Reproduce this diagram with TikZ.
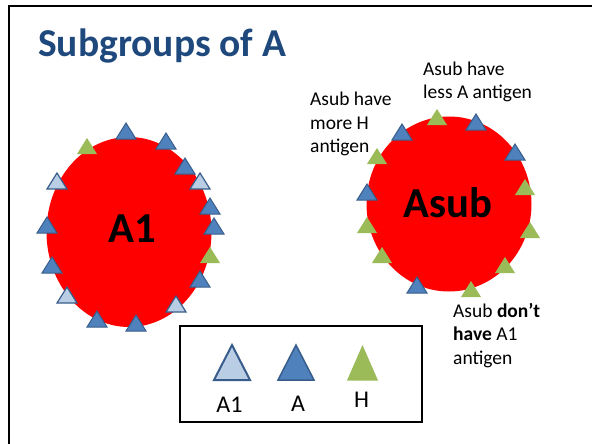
\documentclass[tikz,border=0pt]{standalone}
\usepackage{fontspec}
\setmainfont{Carlito}
\definecolor{titleblue}{RGB}{31,73,125}
\definecolor{agA}{RGB}{79,129,189}
\definecolor{agAline}{RGB}{56,93,138}
\definecolor{agAone}{RGB}{185,205,229}
\definecolor{agH}{RGB}{155,187,89}
\tikzset{
  frameline/.style={line width=2.5pt, black},
  cell/.style={fill=red, draw=none},
  antA/.style={fill=agA, draw=agAline, line width=1pt, line join=miter},
  antAone/.style={fill=agAone, draw=agAline, line width=1.2pt, line join=miter},
  antH/.style={fill=agH, draw=none},
  celllabel/.style={font=\fontsize{42.7}{46}\selectfont\bfseries, inner sep=0pt, anchor=base west},
  % multi-line notes are anchored at the baseline of their last line
  note/.style={font=\fontsize{19.5}{23.5}\selectfont, inner sep=0pt, anchor=base west, align=left},
  legendlabel/.style={font=\fontsize{24}{28}\selectfont, inner sep=0pt, anchor=base},
  legendbox/.style={draw=black, line width=1.8pt}
}
% small antigen triangle centred at (#2,#3)
\newcommand\antigen[3]{\path[#1] (#2-10,#3+8) -- (#2+10,#3+8) -- (#2,#3-8) -- cycle;}
\begin{document}
\begin{tikzpicture}[x=1pt,y=-1pt]
\useasboundingbox (0,0) rectangle (592,444);

% slide frame (left and top edges)
\draw[frameline] (9,444) -- (9,6) -- (592,6);

% title
\node[font=\fontsize{39.5}{43}\selectfont\bfseries, text=titleblue, inner sep=0pt, anchor=base west] (title) at (38,57) {Subgroups of A};

% the two red cells
\fill[cell] (129,232) ellipse [x radius=82.5, y radius=95];
\fill[cell] (449,204) ellipse [x radius=82.5, y radius=87.5];
\node[celllabel] (a1) at (108,242) {A1};
\node[celllabel] (asub) at (403,217) {Asub};

% antigens on the A1 cell
\foreach \x/\y in {126/131,166/141,185/166,210/206,47/225,214/226,52/265,200/279,97/319,136/323}
  {\antigen{antA}{\x}{\y}}
\foreach \x/\y in {57/181,200/181,67/295,176/304}
  {\antigen{antAone}{\x}{\y}}
\foreach \x/\y in {87/146,210/255}
  {\antigen{antH}{\x}{\y}}

% antigens on the Asub cell
\foreach \x/\y in {476/122,402/132,515/152,367/192,417/285}
  {\antigen{antA}{\x}{\y}}
\foreach \x/\y in {437/117,377/156,525/187,367/225,530/230,382/255,505/265,471/289}
  {\antigen{antH}{\x}{\y}}

% notes
\node[note] (lessA) at (423,99) {Asub have\\less A antigen};
\node[note] (moreH) at (310,152.5) {Asub have\\more H\\antigen};
\node[note] (noA1) at (453,364) {Asub \textbf{don’t}\\\textbf{have} A1\\antigen};

% legend
\draw[legendbox] (180,326) rectangle (422,422);
\path[fill=agAone, draw=agAline, line width=2pt, line join=miter] (214,380) -- (250,380) -- (232,345) -- cycle;
\path[fill=agA, draw=agAline, line width=1.5pt, line join=miter] (278,380) -- (314,380) -- (296,345) -- cycle;
\path[fill=agH] (347,380.5) -- (378,380.5) -- (362.5,345) -- cycle;
\node[legendlabel] (lgA1) at (229.5,412) {A1};
\node[legendlabel] (lgA) at (298,411) {A};
\node[legendlabel] (lgH) at (361.5,407) {H};
\end{tikzpicture}
\end{document}
